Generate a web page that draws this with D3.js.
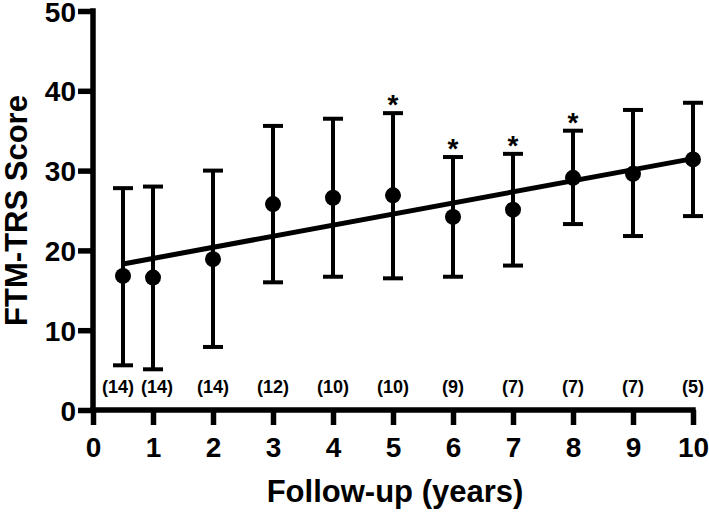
<!DOCTYPE html>
<html><head><meta charset="utf-8">
<script src="https://cdn.jsdelivr.net/npm/d3@7"></script>
<style>body{margin:0;background:#fff}svg{display:block}text{font-family:"Liberation Sans",Arial,sans-serif;font-weight:bold;fill:#000}</style>
</head><body>
<svg id="c" width="709" height="513"></svg>
<script>
const years  = [0.5, 1, 2, 3, 4, 5, 6, 7, 8, 9, 10];
const means  = [16.8, 16.6, 18.9, 25.8, 26.6, 26.9, 24.2, 25.1, 29.1, 29.6, 31.4];
const upper  = [27.8, 28.0, 30.0, 35.6, 36.5, 37.2, 31.7, 32.1, 35.0, 37.6, 38.5];
const lower  = [5.6, 5.1, 7.9, 16.0, 16.7, 16.5, 16.7, 18.1, 23.3, 21.8, 24.3];
const nLabels = ["(14)", "(14)", "(14)", "(12)", "(10)", "(10)", "(9)", "(7)", "(7)", "(7)", "(5)"];
const signif = [false, false, false, false, false, true, true, true, true, false, false];
const fitLine = [[0.5, 18.3], [10, 31.5]];
const xTicks = [0,1,2,3,4,5,6,7,8,9,10];
const yTicks = [0,10,20,30,40,50];
const nLabelY = 3.0;

const FONT = '"Liberation Sans",Arial,sans-serif';
const svg = d3.select("#c");
const x = d3.scaleLinear().domain([0,10]).range([93,693]);
const y = d3.scaleLinear().domain([0,50]).range([410,11]);

// axes
const gx = svg.append("g").attr("transform","translate(0,410)")
  .call(d3.axisBottom(x).tickValues(xTicks).tickSize(15).tickFormat(d3.format("d")));
const gy = svg.append("g").attr("transform","translate(93,0)")
  .call(d3.axisLeft(y).tickValues(yTicks).tickSize(15).tickPadding(2).tickFormat(d3.format("d")));
[gx, gy].forEach(g=>{
  g.attr("font-size",null).attr("font-family",null);
  g.select(".domain").attr("stroke","#000").attr("stroke-width",5.5);
  g.selectAll(".tick line").attr("stroke","#000").attr("stroke-width",5.5);
  g.selectAll(".tick text").attr("font-size",28).attr("font-family",FONT).attr("font-weight","bold").attr("fill","#000");
});
gx.select(".domain").attr("d", `M${x(0)-2.75},0H${x(10)+2.75}`);
gy.select(".domain").attr("d", `M0,${y(50)-2.75}V${y(0)+2.75}`);
gx.selectAll(".tick text").attr("y",47).attr("dy",0);
gy.selectAll(".tick text").attr("dy","0.36em");

// error bars
const eb = svg.append("g").attr("stroke","#000").attr("stroke-width",4);
years.forEach((yr,i)=>{
  eb.append("line").attr("x1",x(yr)).attr("x2",x(yr)).attr("y1",y(upper[i])).attr("y2",y(lower[i]));
  eb.append("line").attr("x1",x(yr)-10).attr("x2",x(yr)+10).attr("y1",y(upper[i])).attr("y2",y(upper[i]));
  eb.append("line").attr("x1",x(yr)-10).attr("x2",x(yr)+10).attr("y1",y(lower[i])).attr("y2",y(lower[i]));
});

// fit line
svg.append("path").datum(fitLine)
  .attr("d", d3.line().x(d=>x(d[0])).y(d=>y(d[1])))
  .attr("stroke","#000").attr("stroke-width",5).attr("fill","none");

// points
svg.append("g").selectAll("circle").data(years).join("circle")
  .attr("cx",d=>x(d)).attr("cy",(d,i)=>y(means[i])).attr("r",8).attr("fill","#000");

// asterisks
svg.append("g").selectAll("text").data(years.map((d,i)=>i).filter(i=>signif[i])).join("text")
  .attr("x",i=>x(years[i])).attr("y",i=>y(upper[i])+1)
  .attr("text-anchor","middle").attr("font-size",28).text("*");

// n labels
const nOffset = i => i===0 ? -5 : (i===1 ? 4 : 0);
svg.append("g").selectAll("text").data(nLabels).join("text")
  .attr("x",(d,i)=>x(years[i])+nOffset(i)).attr("y",y(nLabelY)).attr("dy","0.36em")
  .attr("text-anchor","middle").attr("font-size",18).text(d=>d);

// axis titles
svg.append("text").attr("x",395).attr("y",502).attr("text-anchor","middle")
  .attr("font-size",31).text("Follow-up (years)");
svg.append("text").attr("transform",`translate(27,${y(25)}) rotate(-90)`).attr("text-anchor","middle")
  .attr("font-size",31).text("FTM-TRS Score");
</script>
</body></html>
